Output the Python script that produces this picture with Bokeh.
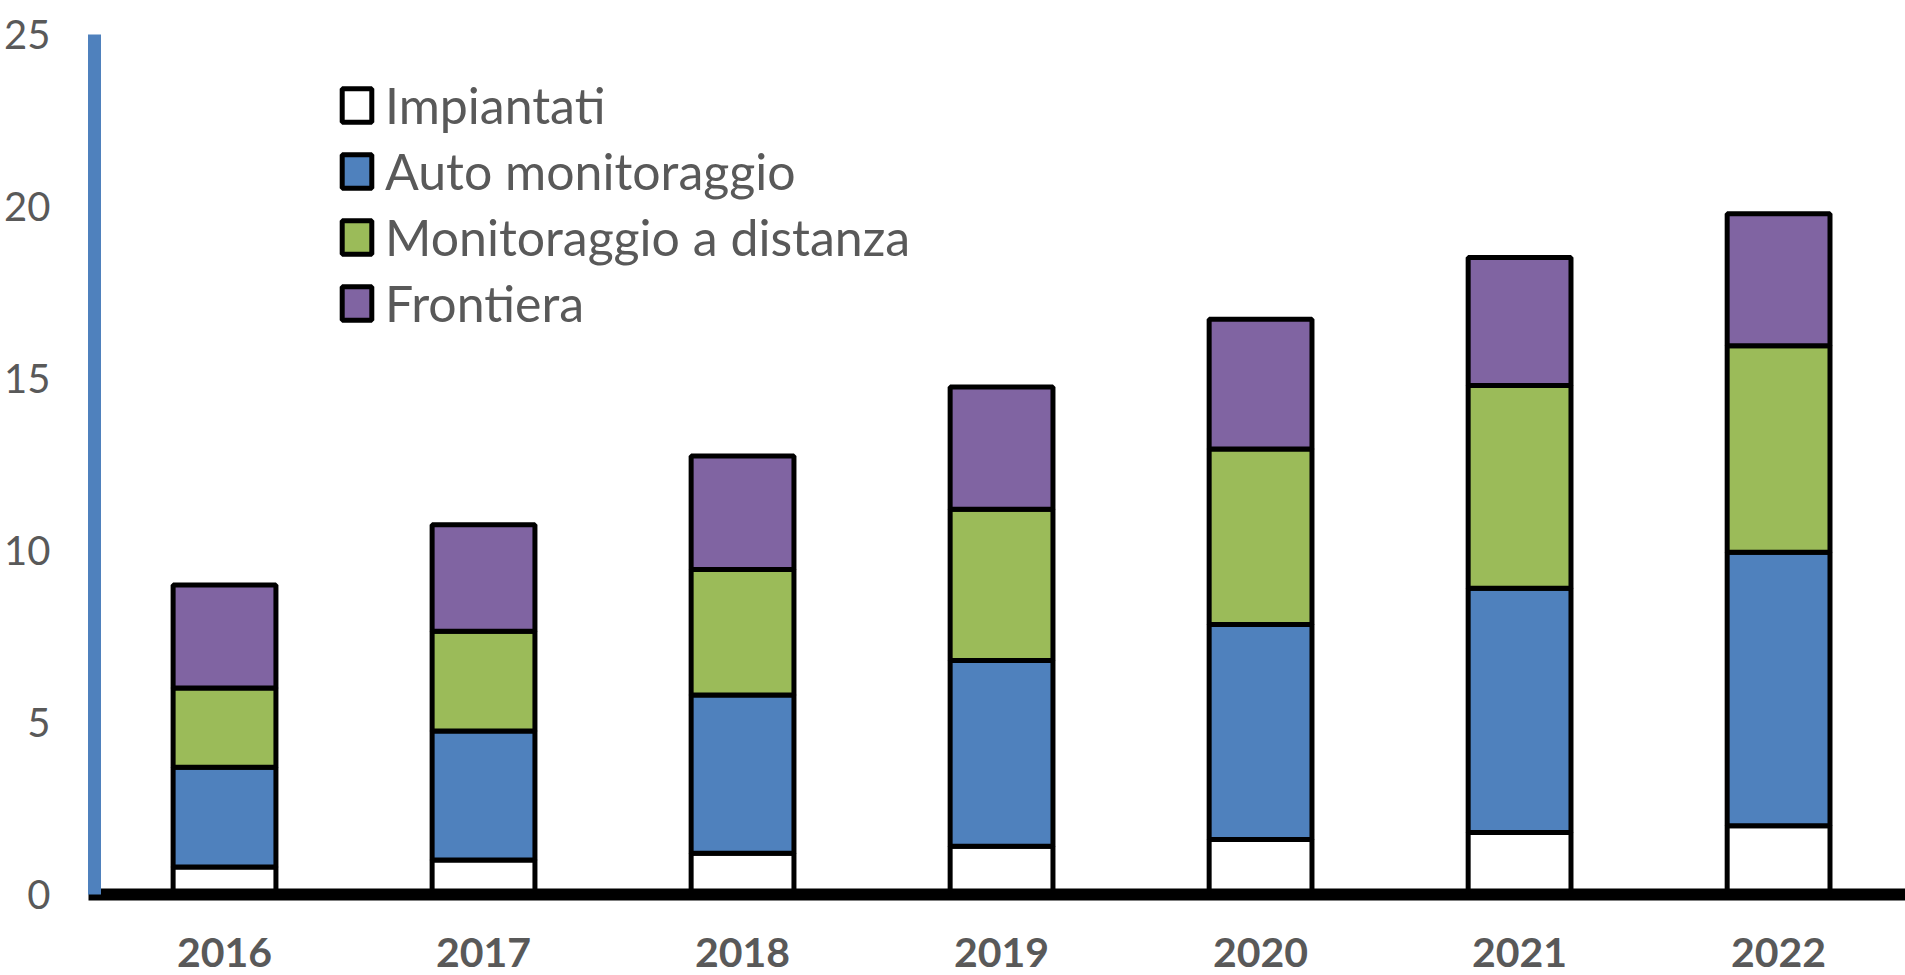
from bokeh.plotting import figure
from bokeh.models import Range1d, FixedTicker, Legend
from bokeh.embed import file_html
from bokeh.resources import INLINE

years = ["2016", "2017", "2018", "2019", "2020", "2021", "2022"]
impiantati = [0.8, 1.0, 1.2, 1.4, 1.6, 1.8, 2.0]
auto_monitoraggio = [2.9, 3.75, 4.6, 5.4, 6.25, 7.1, 7.95]
monitoraggio_distanza = [2.3, 2.9, 3.65, 4.4, 5.1, 5.9, 6.0]
frontiera = [3.0, 3.1, 3.3, 3.55, 3.77, 3.72, 3.84]
y_ticks = [0, 5, 10, 15, 20, 25]

series_names = ["Impiantati", "Auto monitoraggio", "Monitoraggio a distanza", "Frontiera"]
series_keys = ["imp", "auto", "dist", "front"]
colors = ["#FFFFFF", "#4F81BD", "#9BBB59", "#8064A2"]

xs = list(range(len(years)))
data = dict(x=xs, imp=impiantati, auto=auto_monitoraggio,
            dist=monitoraggio_distanza, front=frontiera)

p = figure(width=1905, height=975, output_backend="svg", toolbar_location=None,
           x_range=Range1d(-0.502, 6.490), y_range=Range1d(0, 25),
           min_border_left=94, min_border_right=0, min_border_top=34,
           min_border_bottom=81)
p.outline_line_color = None
p.xgrid.visible = False
p.ygrid.visible = False

renderers = p.vbar_stack(series_keys, x="x", width=0.397, source=data,
                         fill_color=colors, line_color="black", line_width=5)

# y axis
p.yaxis.ticker = FixedTicker(ticks=y_ticks)
p.yaxis.axis_line_color = "#4F81BD"
p.yaxis.axis_line_width = 13
p.yaxis.major_tick_line_color = None
p.yaxis.minor_tick_line_color = None
p.yaxis.major_tick_out = 0
p.yaxis.major_tick_in = 0
p.yaxis.major_label_standoff = 44
p.yaxis.major_label_text_font = "Lato"
p.yaxis.major_label_text_font_size = "40px"
p.yaxis.major_label_text_color = "#595959"

# x axis
p.xaxis.ticker = FixedTicker(ticks=xs)
p.xaxis.major_label_overrides = {i: y for i, y in zip(xs, years)}
p.xaxis.axis_line_color = "black"
p.xaxis.axis_line_width = 12
p.xaxis.axis_line_cap = "square"
p.xaxis.major_tick_line_color = None
p.xaxis.minor_tick_line_color = None
p.xaxis.major_tick_out = 0
p.xaxis.major_tick_in = 0
p.xaxis.major_label_standoff = 43
p.xaxis.major_label_text_font = "Lato"
p.xaxis.major_label_text_font_size = "41px"
p.xaxis.major_label_text_font_style = "bold"
p.xaxis.major_label_text_color = "#595959"

legend = Legend(items=[(n, [r]) for n, r in zip(series_names, renderers)],
                location=(244, 561))
legend.glyph_width = 37
legend.glyph_height = 42
legend.label_standoff = 10
legend.label_height = 60
legend.spacing = 6
legend.padding = 0
legend.margin = 0
legend.border_line_color = None
legend.background_fill_alpha = 0
legend.label_text_font = "Lato"
legend.label_text_font_size = "50px"
legend.label_text_color = "#595959"
p.add_layout(legend)

open("out.html", "w").write(file_html(p, INLINE))
